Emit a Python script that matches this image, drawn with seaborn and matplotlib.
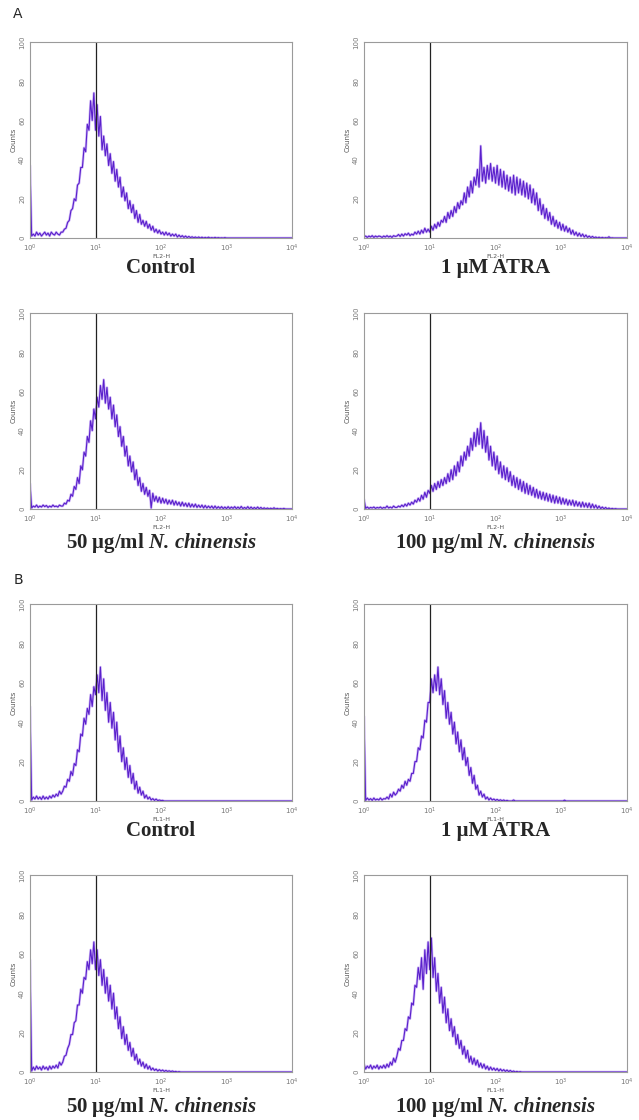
import numpy as np
import pandas as pd
import matplotlib
matplotlib.use("Agg")
import matplotlib.pyplot as plt
import seaborn as sns
from matplotlib.ticker import LogLocator, MultipleLocator

sns.set_style("white")
plt.rcParams['font.family'] = ['DejaVu Sans']
plt.rcParams['mathtext.fontset'] = 'custom'
plt.rcParams['mathtext.rm'] = 'Liberation Serif'
plt.rcParams['mathtext.bf'] = 'Liberation Serif:bold'
plt.rcParams['mathtext.it'] = 'Liberation Serif:italic'
plt.rcParams['mathtext.bfit'] = 'Liberation Serif:italic:bold'

# channel positions, 40 channels per decade (10^0 .. 10^4)
channel = np.arange(161)
fluor = 10 ** (channel / 40)

# counts, one row = half a decade (20 channels)
a_control = (
    [37, 1, 2, 1, 3, 1.5, 2.5, 1, 2, 3, 1.5, 2.5, 1, 3, 2, 1.5, 3, 2, 1.5, 3]
    + [3, 4.5, 5, 8, 9, 14, 15, 20, 19, 27, 28, 36, 36, 46, 44, 58, 55, 70, 60, 74]
    + [55, 68, 52, 62, 45, 52, 42, 48, 37, 43, 33, 39, 29, 35, 26, 31, 21, 26, 19, 23]
    + [15, 19, 13, 17, 10, 14, 8, 12, 7, 9, 6, 8.5, 5, 7, 4, 6, 3, 4.5, 2.5, 4]
    + [2, 3, 1.5, 3, 1.5, 2.5, 1, 2, 1, 2, 0.5, 1.5, 0.5, 1.2, 0.3, 1, 0.2, 0.8, 0.2, 0.6]
    + [0.1, 0.5, 0, 0.5, 0, 0.4, 0, 0.3, 0, 0.4, 0, 0.2, 0, 0.3, 0, 0.2, 0, 0.1, 0, 0.2]
    + [0] * 20
    + [0] * 20
    + [0]
)
a_atra = (
    [0.5, 1, 0.3, 1, 0.5, 1.2, 0.3, 1, 0.5, 1, 0.8, 0.3, 1, 0.5, 1.2, 0.5, 1, 0.3, 1.2, 0.8]
    + [1, 1.8, 0.8, 2, 1, 2.2, 1.5, 2.5, 1.2, 2, 1.5, 3, 2, 3.5, 2, 4, 2.5, 5, 3, 4.5]
    + [3, 6, 4, 7, 5, 8, 6, 9, 8, 11, 8, 13, 10, 14, 11, 16, 13, 18, 15, 19]
    + [17, 23, 18, 26, 21, 29, 23, 31, 27, 35, 26, 47, 29, 36, 28, 37, 30, 38, 29, 36]
    + [28, 37, 27, 35, 26, 34, 25, 32, 24, 31, 23, 32, 22, 31, 23, 30, 22, 29, 21, 28]
    + [20, 27, 18, 25, 17, 23, 14, 20, 12, 17, 10, 15, 9, 13, 7, 11, 6, 9, 5, 8]
    + [4, 7, 3.5, 6, 3, 5, 2, 4, 1.5, 3, 1, 2.5, 0.8, 2, 0.5, 1.5, 0.3, 1, 0.2, 0.8]
    + [0.1, 0.5, 0, 0.4, 0, 0.3, 0, 0.2, 0, 0.6, 0, 0.1, 0, 0, 0, 0, 0, 0, 0, 0]
    + [0]
)
a_nc50 = (
    [13, 0.5, 1.5, 1, 2, 0.8, 1.5, 1, 2, 1.2, 1.8, 0.8, 1.5, 1, 2, 1.2, 1.5, 1, 2, 1.5]
    + [1.5, 3, 2.5, 4.5, 4, 7.5, 6.5, 11.5, 10, 16, 13, 22, 20, 29, 27, 37, 34, 45, 40, 51]
    + [46, 57, 52, 63, 56, 66, 54, 62, 51, 57, 46, 53, 42, 48, 37, 42, 32, 37, 27, 32]
    + [22, 27, 19, 24, 15, 20, 12, 16, 9, 13, 7.5, 11, 6.5, 9.5, 0.5, 8, 4, 6.5, 3.5, 6]
    + [3, 5.5, 3, 5, 2.5, 4.5, 2.5, 4.5, 2, 4, 2, 3.5, 1.5, 3.5, 1.5, 3, 1.2, 3, 1, 2.5]
    + [1, 2.5, 0.8, 2, 0.8, 2, 0.5, 1.8, 0.5, 1.5, 0.5, 1.5, 0.3, 1.5, 0.3, 1.2, 0.3, 1.2, 0.2, 1]
    + [0.2, 1.2, 0.2, 1, 0.3, 1.2, 0.2, 1, 0.2, 1.3, 0.2, 0.8, 0.2, 1.2, 0.1, 1, 0.1, 0.8, 0.1, 1]
    + [0.1, 0.8, 0, 0.6, 0, 0.5, 0, 0.4, 0, 0.6, 0, 0.3, 0, 0.2, 0, 0.3, 0, 0, 0, 0]
    + [0]
)
a_nc100 = (
    [5, 0.3, 1, 0.3, 0.8, 0.5, 1, 0.3, 0.8, 0.5, 1, 0.3, 0.8, 0.5, 1.5, 0.5, 1, 0.5, 1.5, 0.8]
    + [0.8, 1.5, 1, 2, 1.2, 2.5, 1.5, 3, 2, 3.5, 2.5, 4.5, 3.5, 5.5, 4, 7, 5, 8.5, 6, 9.5]
    + [8, 12, 9, 13, 10, 14, 11, 15, 12, 16, 13, 18, 14, 20, 15, 22, 17, 24, 19, 27]
    + [22, 29, 25, 32, 27, 36, 30, 39, 32, 41, 33, 44, 31, 40, 29, 37, 25, 32, 22, 29]
    + [20, 27, 18, 24, 16, 22, 15, 21, 14, 19, 12, 17, 11, 16, 10, 15, 9, 14, 8, 13]
    + [7.5, 12, 7, 11, 6, 10, 5.5, 9, 5, 8.5, 4.5, 8, 4, 7.5, 3.5, 7, 3, 6.5, 3, 6]
    + [2.5, 5.5, 2.5, 5, 2, 4.5, 2, 4.5, 1.5, 4, 1.5, 3.5, 1, 3.5, 1, 3, 0.8, 3, 0.5, 2.5]
    + [0.5, 2, 0.3, 1.5, 0.2, 1, 0.1, 0.8, 0, 0.5, 0, 0.3, 0, 0.2, 0, 0, 0, 0, 0, 0]
    + [0]
)
b_control = (
    [48, 0.5, 2, 1, 2.5, 1, 2, 0.8, 2.5, 1, 2, 1, 2.5, 1.5, 3, 2, 3.5, 2.5, 5, 3.5]
    + [5, 7.5, 7, 11, 10, 15, 13, 19, 18, 26, 25, 34, 33, 42, 39, 47, 44, 54, 48, 58]
    + [54, 64, 55, 68, 51, 62, 46, 55, 40, 50, 37, 45, 31, 40, 25, 33, 20, 27, 16, 22]
    + [12, 18, 9, 14, 6, 10, 4, 7, 3, 5, 1.5, 3, 1, 2, 0.5, 1.2, 0.3, 1, 0.2, 0.5]
    + [0.2, 0.3, 0, 0, 0, 0, 0, 0, 0, 0, 0, 0, 0, 0, 0, 0, 0, 0, 0, 0]
    + [0] * 20
    + [0] * 20
    + [0] * 20
    + [0]
)
b_atra = (
    [43, 0.3, 1.5, 0.5, 1.2, 0.3, 1.5, 0.5, 1, 0.5, 1.5, 0.5, 1.2, 1, 2, 1, 3.5, 2, 4.5, 3]
    + [4, 6, 5, 8, 6.5, 10, 8, 11, 10, 14, 14, 20, 20, 27, 26, 33, 32, 41, 40, 50]
    + [50, 62, 55, 64, 56, 68, 54, 62, 49, 56, 42, 50, 39, 45, 34, 40, 29, 35, 25, 31]
    + [21, 27, 18, 22, 13, 17, 9, 13, 6, 8, 3, 5, 2, 3.5, 1, 2, 0.5, 1.5, 0.5, 1]
    + [0.3, 0.8, 0.2, 0.6, 0.1, 0.5, 0, 0.3, 0, 0, 0, 0.5, 0, 0, 0, 0, 0, 0, 0, 0]
    + [0] * 20
    + [0, 0, 0.4, 0, 0, 0, 0, 0, 0, 0, 0, 0, 0, 0, 0, 0, 0, 0, 0, 0]
    + [0] * 20
    + [0]
)
b_nc50 = (
    [57, 0.5, 2.5, 1, 3, 1.5, 2.5, 1, 3, 1.5, 2.5, 1, 3, 1.5, 3, 2, 3.5, 2, 5, 3.5]
    + [5, 8, 8.5, 12, 14, 19, 19, 25, 26, 34, 34, 42, 40, 48, 47, 56, 52, 62, 55, 66]
    + [52, 62, 49, 57, 44, 52, 40, 48, 36, 44, 32, 40, 27, 33, 22, 28, 17, 23, 14, 19]
    + [11, 15, 8, 12, 6, 9, 4, 6.5, 3, 5, 2, 4, 1.5, 3, 1, 2, 0.8, 1.5, 0.5, 1.2]
    + [0.5, 1, 0.3, 0.8, 0.3, 0.6, 0.2, 0.5, 0.1, 0.3, 0, 0.2, 0, 0, 0, 0, 0, 0, 0, 0]
    + [0] * 20
    + [0] * 20
    + [0] * 20
    + [0]
)
b_nc100 = (
    [4, 1.5, 3, 2, 3.5, 1.5, 3, 2, 3.5, 1.5, 3, 2, 3.5, 2, 4, 2.5, 5, 3.5, 7, 5]
    + [8, 12, 11, 16, 16, 22, 21, 28, 27, 35, 34, 44, 43, 53, 47, 58, 42, 62, 50, 66]
    + [52, 68, 48, 58, 41, 50, 35, 43, 30, 38, 25, 32, 21, 27, 18, 23, 14, 19, 12, 16]
    + [9, 13, 7, 11, 5, 8, 4, 7, 3.5, 6, 2.5, 4.5, 2, 4, 1.5, 3, 1, 2.5, 1, 2]
    + [0.8, 1.8, 0.5, 1.5, 0.5, 1.2, 0.3, 1, 0.2, 0.8, 0.1, 0.5, 0, 0.3, 0, 0.2, 0, 0, 0, 0]
    + [0] * 20
    + [0] * 20
    + [0] * 20
    + [0]
)

nc50_cap = r"$\mathbf{50\ μg/ml\ }\mathbfit{N.}\mathbfit{\,chinensis}$"
nc100_cap = r"$\mathbf{100\ μg/ml\ }\mathbfit{N.}\mathbfit{\,chinensis}$"
panels = [
    (a_control, "FL2-H", "Control"),
    (a_atra, "FL2-H", "1 μM ATRA"),
    (a_nc50, "FL2-H", nc50_cap),
    (a_nc100, "FL2-H", nc100_cap),
    (b_control, "FL1-H", "Control"),
    (b_atra, "FL1-H", "1 μM ATRA"),
    (b_nc50, "FL1-H", nc50_cap),
    (b_nc100, "FL1-H", nc100_cap),
]

W, H = 639, 1120
fig = plt.figure(figsize=(W / 100, H / 100), dpi=100)

col_left = [30, 364]
col_width = [262, 263]
row_top = [42, 313, 604, 875]
row_bottom = [238, 509, 801, 1072]
caption_y = [268, 543, 831, 1107]

for k, (counts, xlab, caption) in enumerate(panels):
    r, c = divmod(k, 2)
    ax = fig.add_axes([col_left[c] / W, 1 - row_bottom[r] / H,
                       col_width[c] / W, (row_bottom[r] - row_top[r]) / H])
    df = pd.DataFrame({"fluor": fluor, "counts": counts})
    sns.lineplot(data=df, x="fluor", y="counts", ax=ax, color="#a77bf0",
                 lw=1.8, alpha=0.55, estimator=None)
    sns.lineplot(data=df, x="fluor", y="counts", ax=ax, color="#5a20cc",
                 lw=0.8, estimator=None)
    ax.axvline(10, color="#222222", lw=0.9)
    ax.set_xscale("log")
    ax.set_xlim(1, 1e4)
    ax.set_ylim(0, 100)
    ax.xaxis.set_major_locator(LogLocator(base=10, numticks=5))
    ax.xaxis.set_minor_locator(LogLocator(base=10, subs=np.arange(2, 10), numticks=10))
    ax.yaxis.set_major_locator(MultipleLocator(20))
    ax.yaxis.set_minor_locator(MultipleLocator(4))
    ax.tick_params(which="both", direction="out", colors="#777777", labelsize=5,
                   width=0.5, pad=1)
    ax.tick_params(which="major", length=2.5)
    ax.tick_params(which="minor", length=1.2)
    ax.tick_params(axis="y", labelrotation=90)
    for lab in ax.get_yticklabels():
        lab.set_va("center")
    ax.set_xlabel(xlab, fontsize=4.5, color="#555555", labelpad=0)
    ax.set_ylabel("Counts", fontsize=5, color="#555555", labelpad=2)
    for sp in ax.spines.values():
        sp.set_color("#9a9a9a")
        sp.set_linewidth(0.8)
    cx = (col_left[c] + col_width[c] / 2) / W
    fig.text(cx, 1 - caption_y[r] / H, caption, ha="center", va="center",
             fontsize=15, fontweight="bold", family="Liberation Serif")

fig.text(18 / W, 1 - 14 / H, "A", fontsize=10, ha="center", va="center")
fig.text(18 / W, 1 - 580 / H, "B", fontsize=10, ha="center", va="center")

fig.savefig("out.png", dpi=100, facecolor="white")
